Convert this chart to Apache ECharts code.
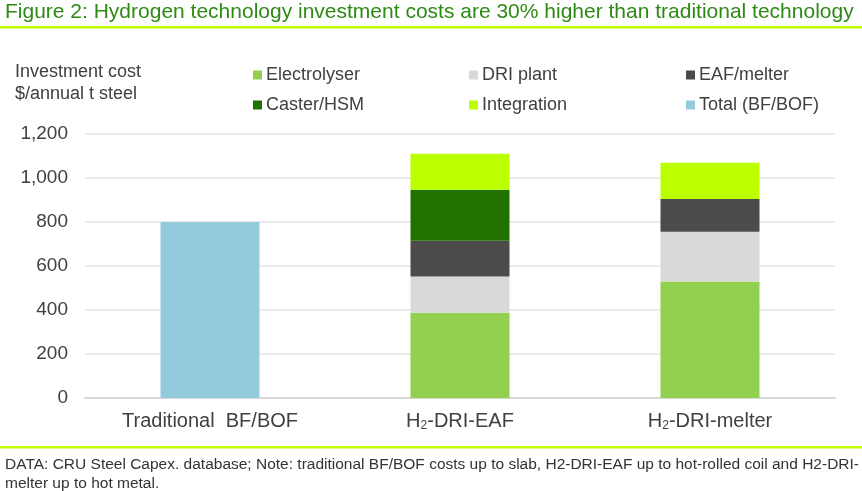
<!DOCTYPE html>
<html lang="en">
<head>
	<meta charset="UTF-8">
	<title>Hydrogen technology investment costs</title>
	<script src="https://cdn.jsdelivr.net/npm/echarts@6/dist/echarts.min.js"></script>
	<style>
		html, body { margin: 0; padding: 0; background: #fff; }
		#chart { width: 862px; height: 491px; }
	</style>
</head>
<body>
	<div id="chart"></div>

	<script>
		// data
		var categories = ['Traditional  BF/BOF', 'H2-DRI-EAF', 'H2-DRI-melter'];
		var electrolyser = [null, 388, 529];
		var driPlant = [null, 164, 227];
		var eafMelter = [null, 163, 149];
		var casterHsm = [null, 232, null];
		var integration = [null, 163, 164];
		var totalBfBof = [800, null, null];
		var yTicks = [0, 200, 400, 600, 800, 1000, 1200];

		var font = '"Liberation Sans", Arial, sans-serif';
		var chart = echarts.init(document.getElementById('chart'));

		function bar(name, values, color) {
			return {
				name: name,
				type: 'bar',
				stack: 'cost',
				barWidth: 99,
				data: values,
				itemStyle: { color: color },
				emphasis: { disabled: true }
			};
		}

		function legendCol(left, names) {
			return {
				orient: 'vertical',
				left: left,
				top: 61,
				itemWidth: 9,
				itemHeight: 9,
				itemGap: 12,
				icon: 'rect',
				selectedMode: false,
				textStyle: { fontFamily: font, fontSize: 18, color: '#404040', padding: [0, 0, 0, -1] },
				data: names
			};
		}

		var option = {
			animation: false,
			textStyle: { fontFamily: font },
			grid: { left: 85, right: 27, top: 134, bottom: 93 },
			legend: [
				legendCol(248, ['Electrolyser', 'Caster/HSM']),
				legendCol(464, ['DRI plant', 'Integration']),
				legendCol(681, ['EAF/melter', 'Total (BF/BOF)'])
			],
			xAxis: {
				type: 'category',
				data: categories,
				axisTick: { show: false },
				axisLine: { lineStyle: { color: '#D9D9D9', width: 2 } },
				axisLabel: {
					interval: 0,
					hideOverlap: false,
					margin: 13,
					fontSize: 20,
					color: '#404040',
					formatter: function (v) {
						if (v.indexOf('H2') === 0) {
							return '{a|H}{s|2}{a|' + v.slice(2) + '}';
						}
						return '{a|' + v + '}';
					},
					rich: {
						a: { fontFamily: font, fontSize: 20, color: '#404040' },
						s: { fontFamily: font, fontSize: 12, color: '#404040', verticalAlign: 'bottom', padding: [9, 0, 0, 0] }
					}
				}
			},
			yAxis: {
				type: 'value',
				min: yTicks[0],
				max: yTicks[yTicks.length - 1],
				interval: 200,
				axisLine: { show: false },
				axisTick: { show: false },
				splitLine: { lineStyle: { color: '#EBEBEB', width: 2 } },
				axisLabel: {
					margin: 17,
					fontSize: 19,
					color: '#404040',
					formatter: function (v) { return v.toLocaleString('en-US'); }
				}
			},
			series: [
				bar('Electrolyser', electrolyser, '#92D050'),
				bar('DRI plant', driPlant, '#D9D9D9'),
				bar('EAF/melter', eafMelter, '#4B4B4B'),
				bar('Caster/HSM', casterHsm, '#217300'),
				bar('Integration', integration, '#BBFF00'),
				bar('Total (BF/BOF)', totalBfBof, '#93CADC')
			],
			graphic: [
				{
					type: 'text', left: 5, top: 2,
					style: { text: 'Figure 2: Hydrogen technology investment costs are 30% higher than traditional technology', fontFamily: font, fontSize: 21, fill: '#2D8A14' }
				},
				{
					type: 'rect', shape: { x: 0, y: 26, width: 862, height: 2.5 },
					style: { fill: '#BFFF00' }
				},
				{
					type: 'text', left: 15, top: 61,
					style: { text: 'Investment cost\n$/annual t steel', fontFamily: font, fontSize: 18, lineHeight: 22, fill: '#404040' }
				},
				{
					type: 'rect', shape: { x: 0, y: 446, width: 862, height: 2.5 },
					style: { fill: '#BFFF00' }
				},
				{
					type: 'text', left: 5, top: 455,
					style: { text: 'DATA: CRU Steel Capex. database; Note: traditional BF/BOF costs up to slab, H2-DRI-EAF up to hot-rolled coil and H2-DRI-\nmelter up to hot metal.', fontFamily: font, fontSize: 15.5, lineHeight: 19, fill: '#333333' }
				}
			]
		};
		chart.setOption(option);
	</script>
</body>
</html>
